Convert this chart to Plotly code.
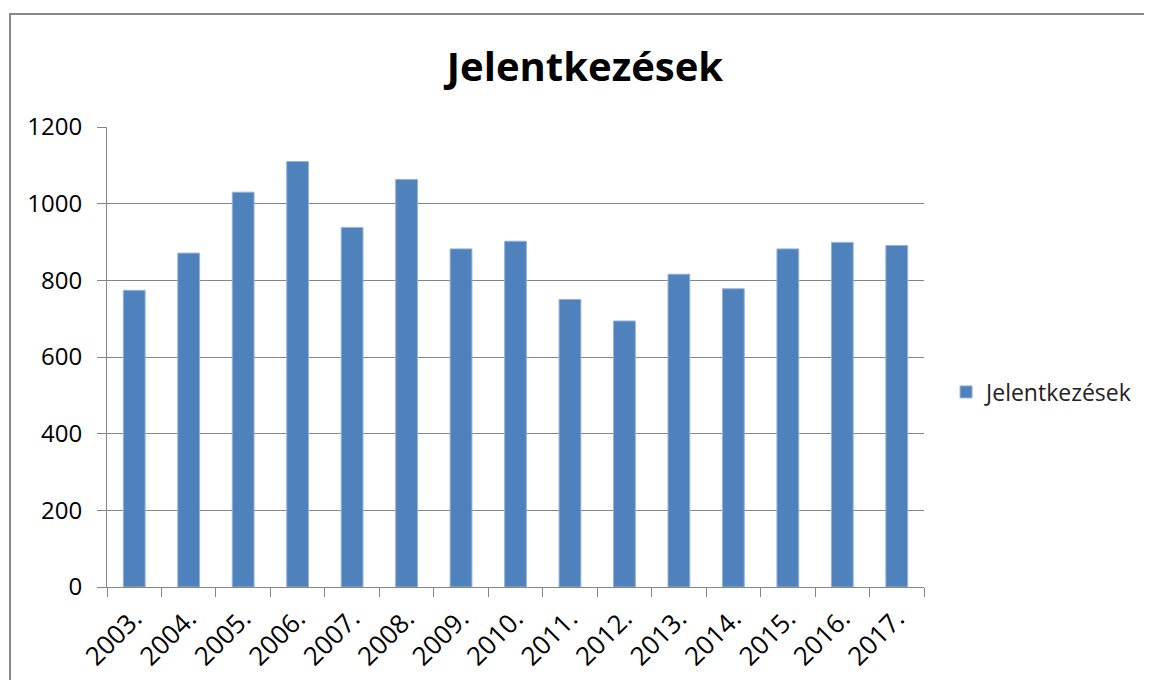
import plotly.graph_objects as go

years = ["2003.", "2004.", "2005.", "2006.", "2007.", "2008.", "2009.", "2010.",
         "2011.", "2012.", "2013.", "2014.", "2015.", "2016.", "2017."]
values = [774, 871, 1030, 1110, 938, 1063, 882, 902, 750, 694, 816, 778, 882, 899, 891]
series_name = "Jelentkezések"
y_ticks = [0, 200, 400, 600, 800, 1000, 1200]

FONT = "Open Sans"
L, T, PW, PH = 99, 119, 817, 460

fig = go.Figure()
fig.add_trace(go.Bar(
    x=years, y=values, name=series_name,
    marker=dict(color="#4F81BD", line=dict(color="#95B3D7", width=1)),
    width=0.4, showlegend=True,
))

fig.update_layout(
    width=1152, height=680,
    margin=dict(l=L, r=1152-L-PW, t=T, b=680-T-PH),
    paper_bgcolor="white", plot_bgcolor="white",
    title=dict(text="<b>Jelentkezések</b>", x=577/1152, xref="container", xanchor="center",
               y=1-59/680, yref="container", yanchor="middle",
               font=dict(family=FONT, size=40, color="black")),
    font=dict(family=FONT, color="black"),
    showlegend=True,
    legend=dict(x=1.027, xanchor="left", y=0.424, yanchor="middle",
                font=dict(family=FONT, size=23, color="#222222"),
                bgcolor="rgba(0,0,0,0)", itemwidth=30),
    bargap=0.6,
)

fig.update_xaxes(
    type="category", tickangle=-45, tickson="boundaries",
    ticks="outside", ticklen=9, tickcolor="#868686",
    showline=True, linecolor="#868686", linewidth=1,
    showgrid=False, ticklabelstandoff=5, automargin=False,
    tickfont=dict(family=FONT, size=26, color="black"),
)
fig.update_yaxes(
    range=[0, 1200], tickvals=y_ticks,
    ticks="outside", ticklen=9, tickcolor="#868686",
    showline=True, linecolor="#868686", linewidth=1,
    showgrid=True, gridcolor="#868686", gridwidth=1,
    zeroline=False, ticklabelstandoff=10, automargin=False,
    tickfont=dict(family=FONT, size=24, color="black"),
)

# chart frame (outer border, partly cut off at right/bottom as in the reference)
fig.add_shape(type="rect", xref="paper", yref="paper",
              x0=(2-L)/PW, x1=(1165-L)/PW, y0=(T+PH-690)/PH, y1=(T+PH-6)/PH,
              line=dict(color="#888888", width=2), fillcolor="rgba(0,0,0,0)", layer="below")

fig.write_html("out.html")
